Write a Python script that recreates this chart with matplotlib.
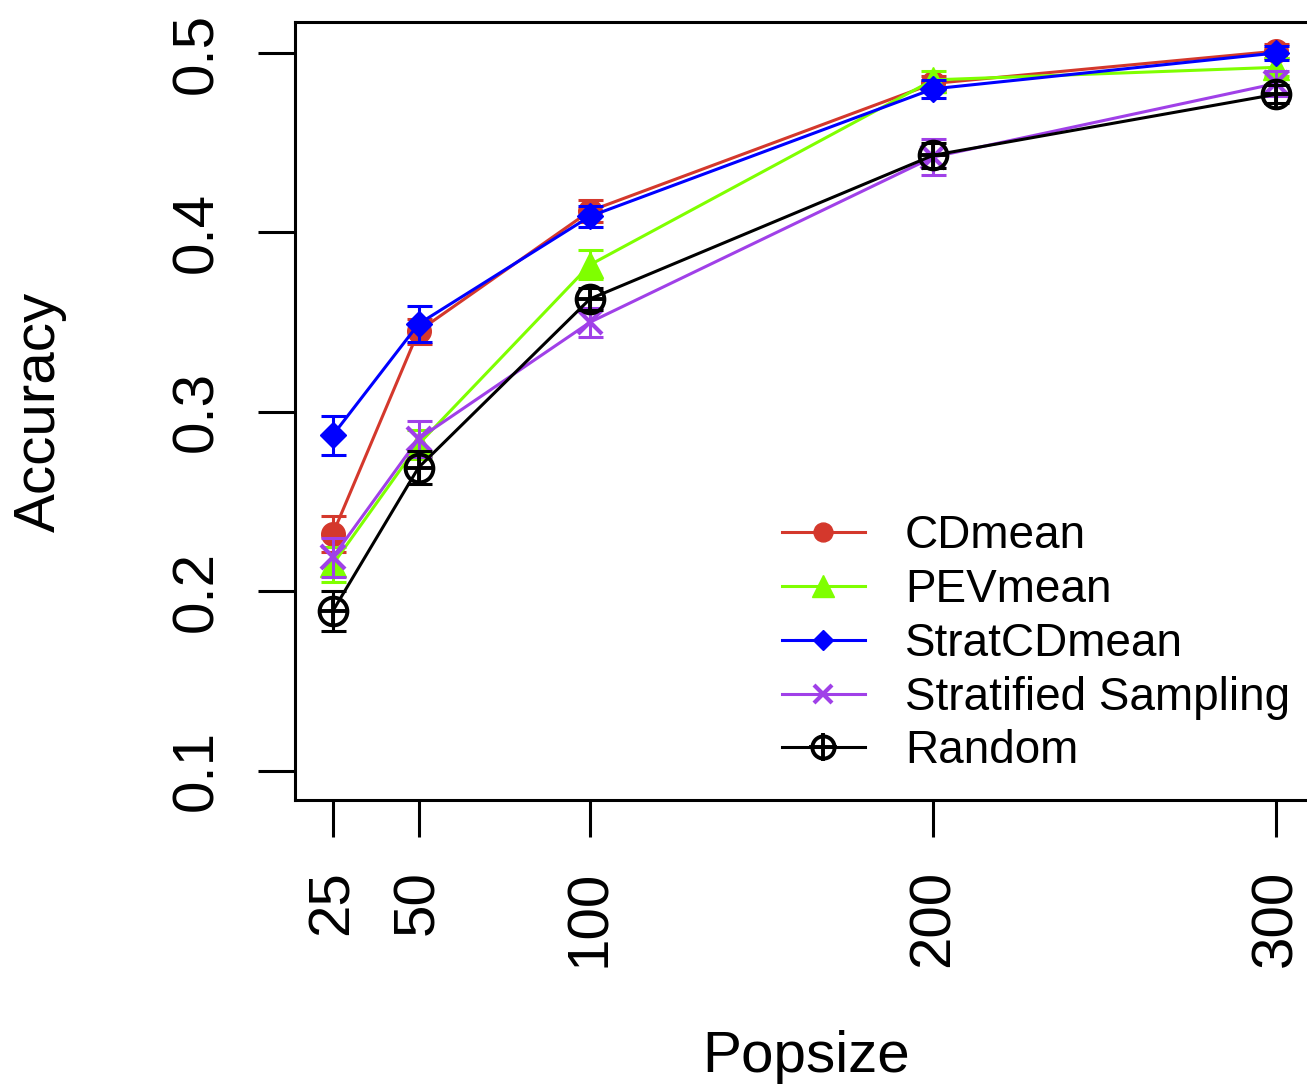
import numpy as np
import matplotlib.pyplot as plt
from matplotlib.legend_handler import HandlerTuple

plt.rcParams['font.family'] = ['Liberation Sans', 'DejaVu Sans']

# Data
popsize = [25, 50, 100, 200, 300]
labels = ['CDmean', 'PEVmean', 'StratCDmean', 'Stratified Sampling', 'Random']

cdmean = [0.232, 0.345, 0.412, 0.483, 0.501]
pevmean = [0.215, 0.282, 0.382, 0.485, 0.492]
stratcd = [0.287, 0.349, 0.409, 0.480, 0.500]
stratified = [0.219, 0.285, 0.350, 0.442, 0.483]
random_ = [0.189, 0.269, 0.363, 0.443, 0.477]

cdmean_err = [0.010, 0.007, 0.006, 0.004, 0.004]
pevmean_err = [0.010, 0.008, 0.008, 0.005, 0.005]
stratcd_err = [0.011, 0.010, 0.006, 0.005, 0.004]
stratified_err = [0.011, 0.010, 0.008, 0.010, 0.007]
random_err = [0.011, 0.009, 0.006, 0.007, 0.005]

colors = ['#d4382c', '#7fff00', '#0000ff', '#a040e8', '#000000']

fig = plt.figure(figsize=(13.07, 10.85), dpi=100)
ax = fig.add_axes([0.2257, 0.2627, 0.7797, 0.7171])

lw = 2.2
handles = []

# CDmean
ax.errorbar(popsize, cdmean, yerr=cdmean_err, color=colors[0], lw=lw,
            capsize=9, capthick=lw, elinewidth=lw, fmt='none')
h, = ax.plot(popsize, cdmean, color=colors[0], lw=lw, marker='o', markersize=17)
handles.append(h)

# PEVmean
ax.errorbar(popsize, pevmean, yerr=pevmean_err, color=colors[1], lw=lw,
            capsize=9, capthick=lw, elinewidth=lw, fmt='none')
h, = ax.plot(popsize, pevmean, color=colors[1], lw=lw, marker='^', markersize=19)
handles.append(h)

# StratCDmean
ax.errorbar(popsize, stratcd, yerr=stratcd_err, color=colors[2], lw=lw,
            capsize=9, capthick=lw, elinewidth=lw, fmt='none')
h, = ax.plot(popsize, stratcd, color=colors[2], lw=lw, marker='D', markersize=13)
handles.append(h)

# Stratified Sampling
ax.errorbar(popsize, stratified, yerr=stratified_err, color=colors[3], lw=lw,
            capsize=9, capthick=lw, elinewidth=lw, fmt='none')
h, = ax.plot(popsize, stratified, color=colors[3], lw=lw, marker='x',
             markersize=17, markeredgewidth=3)
handles.append(h)

# Random (circle with plus)
ax.errorbar(popsize, random_, yerr=random_err, color=colors[4], lw=lw,
            capsize=9, capthick=lw, elinewidth=lw, fmt='none')
h1, = ax.plot(popsize, random_, color=colors[4], lw=lw, marker='o', markersize=20,
              markerfacecolor='none', markeredgewidth=2.8)
h2, = ax.plot(popsize, random_, color=colors[4], lw=0, marker='+', markersize=20,
              markeredgewidth=2.8)
handles.append((h1, h2))

ax.set_xlim(14, 311)
ax.set_ylim(0.0838, 0.5173)
ax.set_xticks(popsize)
ax.set_xticklabels([str(p) for p in popsize])
ax.set_yticks([0.1, 0.2, 0.3, 0.4, 0.5])
ax.set_yticklabels(['0.1', '0.2', '0.3', '0.4', '0.5'])

for s in ax.spines.values():
    s.set_linewidth(lw)
ax.tick_params(axis='both', length=26.6, width=lw, labelsize=42, pad=24)
for t in ax.get_xticklabels():
    t.set_rotation(90)
    t.set_va('top')
    t.set_ha('center')
for t in ax.get_yticklabels():
    t.set_rotation(90)
    t.set_va('center')
    t.set_ha('right')

fig.text(806 / 1307, 1 - 1072 / 1085, 'Popsize', fontsize=42, ha='center', va='baseline')
fig.text(40 / 1307, 1 - 412 / 1085, 'Accuracy', fontsize=42, rotation=90,
         ha='center', va='center')

leg = fig.legend(handles, labels, loc='upper left', bbox_to_anchor=(782 / 1307, 1 - 514 / 1085),
                 frameon=False, fontsize=33, handlelength=1.81, handletextpad=0.87,
                 labelspacing=0.215, borderpad=0, borderaxespad=0,
                 handler_map={tuple: HandlerTuple(ndivide=1)})
for lh in leg.legend_handles:
    if hasattr(lh, 'set_markersize'):
        lh.set_markersize(lh.get_markersize() * 0.8)

fig.savefig('out.png', dpi=100)
